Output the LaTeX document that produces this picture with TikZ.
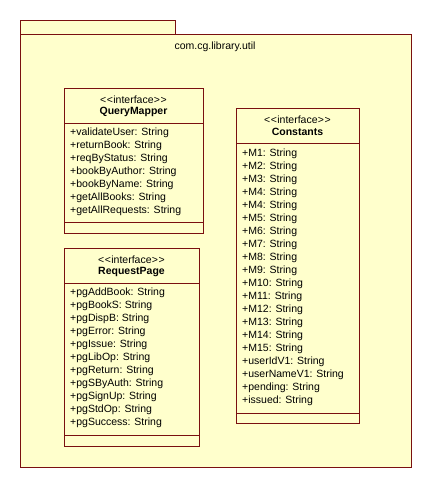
\documentclass[tikz,border=0pt]{standalone}
\usepackage{fontspec}
\setmainfont{Liberation Sans}
\usetikzlibrary{positioning}
\definecolor{umlfill}{RGB}{255,255,204}
\definecolor{umlline}{RGB}{122,16,16}

\tikzset{
  pkg/.style={draw=umlline, fill=umlfill, line width=0.9pt},
  classbox/.style={draw=umlline, fill=umlfill, line width=0.9pt, anchor=north west, inner sep=0pt},
  stereo/.style={font=\fontsize{10.5}{12}\selectfont, inner sep=0pt},
  cname/.style={font=\fontsize{10.5}{12}\selectfont\bfseries, inner sep=0pt},
  attr/.style={anchor=west, inner sep=0pt, font=\fontsize{10.5}{12}\selectfont}
}
\newcommand{\stereotxt}{<\kern0.6pt<\kern0.3pt interface\kern0.3pt>\kern0.6pt>}

\begin{document}
\begin{tikzpicture}[x=1pt, y=-1pt]
    \useasboundingbox (0,0) rectangle (432,488);

    % package with its tab
    \draw[pkg] (20,20) rectangle (175,34);
    \draw[pkg] (20,34) rectangle (411,467);
    \node[inner sep=0pt, font=\fontsize{10.5}{12}\selectfont] (pkgname) at (215,47) {com.cg.library.util};

    % QueryMapper
    \node[classbox, minimum width=139pt, minimum height=145pt] (qm) at (64,88) {};
    \draw[umlline, line width=0.9pt] (64,123) -- (203,123);
    \draw[umlline, line width=0.9pt] (64,222) -- (203,222);
    \node[stereo] (qmst) at (133.5,100) {\stereotxt};
    \node[cname] (qmname) at (133.5,112) {QueryMapper};
    \foreach \a [count=\i from 0] in {validateUser, returnBook, reqByStatus,
        bookByAuthor, bookByName, getAllBooks, getAllRequests}{
        \node[attr] (qm-\i) at (70,133+13*\i) {+\a: String};
    }

    % RequestPage
    \node[classbox, minimum width=135pt, minimum height=198pt] (rp) at (64,248) {};
    \draw[umlline, line width=0.9pt] (64,283) -- (199,283);
    \draw[umlline, line width=0.9pt] (64,435) -- (199,435);
    \node[stereo] (rpst) at (131.5,260) {\stereotxt};
    \node[cname] (rpname) at (131.5,272) {RequestPage};
    \foreach \a [count=\i from 0] in {pgAddBook, pgBookS, pgDispB, pgError, pgIssue,
        pgLibOp, pgReturn, pgSByAuth, pgSignUp, pgStdOp, pgSuccess}{
        \node[attr] (rp-\i) at (70,293+13*\i) {+\a: String};
    }

    % Constants
    \node[classbox, minimum width=123pt, minimum height=315pt] (cs) at (236,108) {};
    \draw[umlline, line width=0.9pt] (236,143) -- (359,143);
    \draw[umlline, line width=0.9pt] (236,413) -- (359,413);
    \node[stereo] (csst) at (297.5,120) {\stereotxt};
    \node[cname] (csname) at (297.5,132) {Constants};
    \foreach \a [count=\i from 0] in {M1, M2, M3, M4, M4, M5, M6, M7, M8, M9, M10,
        M11, M12, M13, M14, M15, userIdV1, userNameV1, pending, issued}{
        \node[attr] (cs-\i) at (242,154+13*\i) {+\a: String};
    }

\end{tikzpicture}
\end{document}
